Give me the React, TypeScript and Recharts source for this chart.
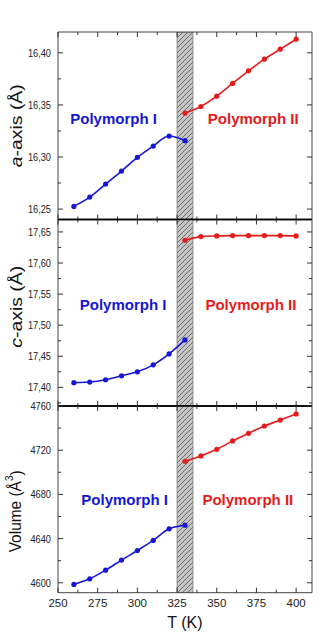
import React from 'react';
import { ComposedChart, Line, XAxis, YAxis, ReferenceArea, ReferenceDot } from 'recharts';

// Temperatures (K) for the two polymorphs
const tempsI = [260, 270, 280, 290, 300, 310, 320, 330];
const tempsII = [330, 340, 350, 360, 370, 380, 390, 400];

// Lattice parameter a (Å)
const aAxisI = [16.2526, 16.2615, 16.274, 16.2865, 16.2997, 16.3105, 16.3201, 16.3157];
const aAxisII = [16.3421, 16.3485, 16.3584, 16.3706, 16.3827, 16.3939, 16.4035, 16.4131];

// Lattice parameter c (Å)
const cAxisI = [17.4075, 17.4085, 17.4122, 17.4186, 17.425, 17.4362, 17.4538, 17.4763];
const cAxisII = [17.6366, 17.6425, 17.6436, 17.6441, 17.6441, 17.6441, 17.6441, 17.6436];

// Cell volume (Å³)
const volumeI = [4598.5, 4603.6, 4611.4, 4620.5, 4629.2, 4638.3, 4648.8, 4652.1];
const volumeII = [4710.0, 4714.8, 4720.8, 4728.4, 4735.3, 4741.9, 4747.3, 4752.8];

// Transition range (K)
const transitionRange = [325, 335];

// Axis ticks (major + minor) and labelled ticks
const tTicks = [250, 262.5, 275, 287.5, 300, 312.5, 325, 337.5, 350, 362.5, 375, 387.5, 400];
const tLabels = [250, 275, 300, 325, 350, 375, 400];
const aTicks = [16.25, 16.275, 16.3, 16.325, 16.35, 16.375, 16.4];
const aLabels = [16.25, 16.3, 16.35, 16.4];
const cTicks = [17.375, 17.4, 17.425, 17.45, 17.475, 17.5, 17.525, 17.55, 17.575, 17.6, 17.625, 17.65];
const cLabels = [17.4, 17.45, 17.5, 17.55, 17.6, 17.65];
const volTicks = [4600, 4620, 4640, 4660, 4680, 4700, 4720, 4740, 4760];
const volLabels = [4600, 4640, 4680, 4720, 4760];

const phaseNames = ['Polymorph I', 'Polymorph II'];

const BLUE = '#1616d6';
const RED = '#e61b1b';
const FONT = '"Liberation Sans", Arial, Helvetica, sans-serif';
const W = 334;
const H = 633;
const PLOT_LEFT = 58;
const PLOT_RIGHT = 312;

const toPoints = (ts: number[], vs: number[]) => ts.map((t, i) => ({ t, v: vs[i] }));
const isIn = (v: number, list: number[]) => list.some((m) => Math.abs(m - v) < 1e-6);

const fmt = (v: number, decimals: number) =>
  decimals > 0 ? v.toFixed(decimals).replace('.', ',') : String(v);

function LeftTick(props: any) {
  const { x, y, payload, labels, decimals } = props;
  const major = isIn(payload.value, labels);
  const axisX = x + 7;
  const text = fmt(payload.value, decimals);
  const natural = text.split('').reduce((s: number, ch: string) => s + (ch === ',' ? 0.278 : 0.556), 0) * 11;
  return (
    <g>
      <line x1={axisX} x2={axisX + (major ? 5 : 3)} y1={y} y2={y} stroke="#333" strokeWidth={1} />
      {major && (
        <text
          x={x}
          y={y}
          dy="0.36em"
          textAnchor="end"
          fontSize={11}
          fontFamily={FONT}
          fill="#222"
          textLength={natural * 0.84}
          lengthAdjust="spacingAndGlyphs"
        >
          {text}
        </text>
      )}
    </g>
  );
}

function RightTick(props: any) {
  const { x, y, payload, labels } = props;
  const major = isIn(payload.value, labels);
  return <line x1={x} x2={x - (major ? 5 : 3)} y1={y} y2={y} stroke="#333" strokeWidth={1} />;
}

function TopTick(props: any) {
  const { x, y, payload } = props;
  const major = isIn(payload.value, tLabels);
  return <line x1={x} x2={x} y1={y} y2={y + (major ? 5 : 3)} stroke="#333" strokeWidth={1} />;
}

function BottomTick(props: any) {
  const { x, y, payload, showLabels } = props;
  const major = isIn(payload.value, tLabels);
  return (
    <g>
      <line x1={x} x2={x} y1={y} y2={y - (major ? 5 : 3)} stroke="#333" strokeWidth={1} />
      {showLabels && major && (
        <text x={x} y={y + 14.5} textAnchor="middle" fontSize={11.5} fontFamily={FONT} fill="#222">
          {payload.value}
        </text>
      )}
    </g>
  );
}

// Rotated axis title; shift and length tune the placement of each panel's title
function YTitle({ viewBox, kind, shift, length }: any) {
  const cx = 16;
  const cy = viewBox.y + viewBox.height / 2 + shift;
  const common = {
    x: cx,
    y: cy,
    transform: `rotate(-90 ${cx} ${cy})`,
    textAnchor: 'middle' as const,
    dominantBaseline: 'central' as const,
    fontSize: 17,
    fontFamily: FONT,
    fill: '#111',
    lengthAdjust: 'spacingAndGlyphs' as const,
    textLength: length,
  };
  if (kind === 'vol') {
    return (
      <text {...common}>
        Volume (Å
        <tspan fontSize={11} dy={-7}>3</tspan>
        <tspan dy={7}>)</tspan>
      </text>
    );
  }
  return (
    <text {...common}>
      <tspan fontStyle="italic">{kind}</tspan>-axis (Å)
    </text>
  );
}

function XTitle({ viewBox }: any) {
  const cx = viewBox.x + viewBox.width / 2;
  return (
    <text x={cx} y={viewBox.y + 35.5} textAnchor="middle" fontSize={16} fontFamily={FONT} fill="#111">
      T (K)
    </text>
  );
}

function PhaseLabel({ viewBox, text, color }: any) {
  const cx = viewBox.x + viewBox.width / 2;
  const cy = viewBox.y + viewBox.height / 2;
  return (
    <text x={cx} y={cy} textAnchor="middle" dominantBaseline="central" fontSize={15} fontWeight="bold" fontFamily={FONT} fill={color}>
      {text}
    </text>
  );
}

type PanelSpec = {
  id: string;
  top: number;
  bottom: number;
  domain: [number, number];
  ticks: number[];
  labels: number[];
  decimals: number;
  seriesI: { t: number; v: number }[];
  seriesII: { t: number; v: number }[];
  title: string;
  titleShift: number;
  titleLength: number;
  phasePos: { t: number; v: number }[];
  sepTop: boolean;
  sepBottom: boolean;
  showX: boolean;
};

const panels: PanelSpec[] = [
  {
    id: 'a',
    top: 32,
    bottom: 219.5,
    domain: [16.24, 16.42],
    ticks: aTicks,
    labels: aLabels,
    decimals: 2,
    seriesI: toPoints(tempsI, aAxisI),
    seriesII: toPoints(tempsII, aAxisII),
    title: 'a',
    titleShift: 0,
    titleLength: 83,
    phasePos: [
      { t: 285, v: 16.337 },
      { t: 373, v: 16.337 },
    ],
    sepTop: false,
    sepBottom: true,
    showX: false,
  },
  {
    id: 'c',
    top: 219.5,
    bottom: 406,
    domain: [17.37, 17.67],
    ticks: cTicks,
    labels: cLabels,
    decimals: 2,
    seriesI: toPoints(tempsI, cAxisI),
    seriesII: toPoints(tempsII, cAxisII),
    title: 'c',
    titleShift: -6,
    titleLength: 82,
    phasePos: [
      { t: 291, v: 17.5325 },
      { t: 371.5, v: 17.5325 },
    ],
    sepTop: true,
    sepBottom: true,
    showX: false,
  },
  {
    id: 'vol',
    top: 406,
    bottom: 592.7,
    domain: [4591, 4760],
    ticks: volTicks,
    labels: volLabels,
    decimals: 0,
    seriesI: toPoints(tempsI, volumeI),
    seriesII: toPoints(tempsII, volumeII),
    title: 'vol',
    titleShift: 12,
    titleLength: 82,
    phasePos: [
      { t: 292, v: 4675.7 },
      { t: 369.6, v: 4675.7 },
    ],
    sepTop: true,
    sepBottom: false,
    showX: true,
  },
];

const frame = { stroke: '#444', strokeWidth: 1 };
const sep = { stroke: '#000', strokeWidth: 1.6 };

function PanelChart({ p }: { p: PanelSpec }) {
  const hatchId = `hatch-${p.id}`;
  return (
    <div style={{ position: 'absolute', left: 0, top: 0 }}>
      <ComposedChart
        width={W}
        height={H}
        margin={{ top: p.top - 1, bottom: H - p.bottom - 1, left: 0, right: W - PLOT_RIGHT - 1 }}
      >
        <defs>
          <pattern id={hatchId} patternUnits="userSpaceOnUse" width={5} height={5}>
            <rect x={0} y={0} width={5} height={5} fill="#c6c6c6" />
            <path d="M-1,1 L1,-1 M0,5 L5,0 M4,6 L6,4" stroke="#444" strokeWidth={0.7} />
          </pattern>
        </defs>
        <XAxis
          xAxisId="b"
          dataKey="t"
          type="number"
          domain={[250, 410]}
          ticks={tTicks}
          interval={0}
          allowDataOverflow
          orientation="bottom"
          height={1}
          tickSize={0}
          tickMargin={0}
          tickLine={false}
          axisLine={p.sepBottom ? sep : frame}
          tick={(tp: any) => <BottomTick {...tp} showLabels={p.showX} />}
          label={p.showX ? (lp: any) => <XTitle viewBox={lp.viewBox} /> : undefined}
        />
        <XAxis
          xAxisId="t"
          dataKey="t"
          type="number"
          domain={[250, 410]}
          ticks={tTicks}
          interval={0}
          allowDataOverflow
          orientation="top"
          height={1}
          tickSize={0}
          tickMargin={0}
          tickLine={false}
          axisLine={p.sepTop ? sep : frame}
          tick={(tp: any) => <TopTick {...tp} />}
        />
        <YAxis
          yAxisId="l"
          type="number"
          domain={p.domain}
          ticks={p.ticks}
          interval={0}
          allowDataOverflow
          orientation="left"
          width={PLOT_LEFT}
          tickSize={0}
          tickMargin={7}
          tickLine={false}
          axisLine={frame}
          tick={(tp: any) => <LeftTick {...tp} labels={p.labels} decimals={p.decimals} />}
          label={(lp: any) => (
            <YTitle viewBox={lp.viewBox} kind={p.title} shift={p.titleShift} length={p.titleLength} />
          )}
        />
        <YAxis
          yAxisId="r"
          type="number"
          domain={p.domain}
          ticks={p.ticks}
          interval={0}
          allowDataOverflow
          orientation="right"
          width={1}
          tickSize={0}
          tickMargin={0}
          tickLine={false}
          axisLine={frame}
          tick={(tp: any) => <RightTick {...tp} labels={p.labels} />}
        />
        <ReferenceArea
          xAxisId="b"
          yAxisId="l"
          x1={transitionRange[0]}
          x2={transitionRange[1]}
          fill={`url(#${hatchId})`}
          fillOpacity={1}
          stroke="#777"
          strokeWidth={0.8}
          ifOverflow="hidden"
        />
        <Line
          xAxisId="b"
          yAxisId="l"
          data={p.seriesI}
          dataKey="v"
          type="monotone"
          stroke={BLUE}
          strokeWidth={1.6}
          dot={{ r: 2.6, fill: BLUE, stroke: BLUE, strokeWidth: 0 }}
          activeDot={false}
          isAnimationActive={false}
        />
        <Line
          xAxisId="b"
          yAxisId="l"
          data={p.seriesII}
          dataKey="v"
          type="monotone"
          stroke={RED}
          strokeWidth={1.6}
          dot={{ r: 2.6, fill: RED, stroke: RED, strokeWidth: 0 }}
          activeDot={false}
          isAnimationActive={false}
        />
        {p.phasePos.map((pos, i) => (
          <ReferenceDot
            key={i}
            xAxisId="b"
            yAxisId="l"
            x={pos.t}
            y={pos.v}
            r={0}
            fill="none"
            stroke="none"
            ifOverflow="visible"
            label={(lp: any) => (
              <PhaseLabel viewBox={lp.viewBox} text={phaseNames[i]} color={i === 0 ? BLUE : RED} />
            )}
          />
        ))}
      </ComposedChart>
    </div>
  );
}

export default function App() {
  return (
    <div style={{ position: 'absolute', left: 0, top: 0, width: W, height: H, background: '#fff' }}>
      {panels.map((p) => (
        <PanelChart key={p.id} p={p} />
      ))}
    </div>
  );
}
